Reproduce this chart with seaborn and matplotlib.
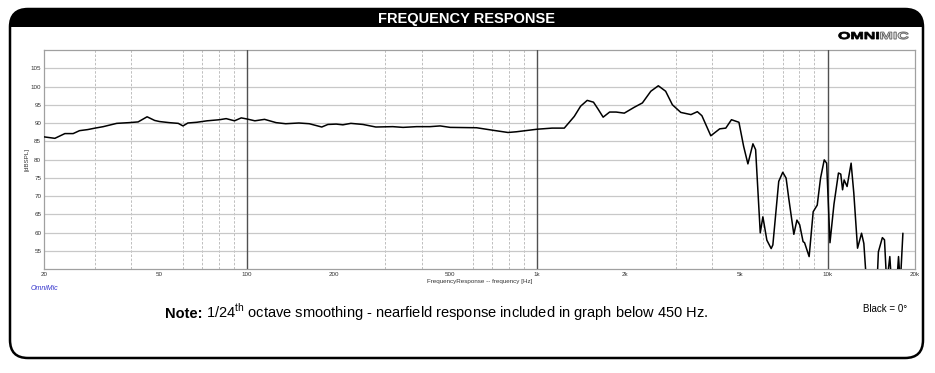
import matplotlib
matplotlib.use('Agg')
import matplotlib.pyplot as plt
import seaborn as sns
import pandas as pd
from matplotlib.patches import FancyBboxPatch, Rectangle, PathPatch
from matplotlib.textpath import TextPath
from matplotlib.font_manager import FontProperties
from matplotlib.transforms import Affine2D
from matplotlib.ticker import LogLocator, NullFormatter, FixedLocator

# frequency response (Hz, dB SPL)
freq_hz = [20, 21.8, 23.6, 25.2, 26.5, 28.3, 30, 32, 35.6, 39.3, 42.2, 45.3, 48.1, 50,
           54, 58, 60.2, 62.6, 67.2, 72.9, 80.5, 84.8, 90.6, 95.6, 100, 106.5, 115, 126,
           136, 151, 164, 181, 190, 203, 214, 228, 251, 278, 318, 345, 384, 427, 463,
           501, 618, 705, 793, 848, 1000, 1125, 1239, 1341, 1410, 1486, 1562, 1620, 1686,
           1775, 1869, 1994, 2157, 2302, 2461, 2612, 2768, 2920, 3121, 3383, 3560, 3690,
           3960, 4250, 4460, 4665, 4950, 5138, 5315, 5531, 5650, 5862, 5985, 6177, 6392,
           6478, 6787, 7007, 7196, 7347, 7651, 7840, 8015, 8232, 8330, 8638, 8920, 9210,
           9456, 9737, 9924, 10190, 10520, 10900, 11100, 11260, 11400, 11670, 12050,
           12310, 12680, 13090, 13330, 13620, 14800, 14960, 15440, 15700, 15980, 16380,
           16600, 17300, 17550, 17800, 18170]
spl_db = [86.2, 85.8, 87.1, 87.1, 87.9, 88.2, 88.6, 89.0, 89.9, 90.1, 90.3, 91.7, 90.7, 90.4,
          90.1, 89.9, 89.2, 90.0, 90.2, 90.6, 90.9, 91.2, 90.6, 91.4, 91.1, 90.6, 91.0, 90.1,
          89.8, 90.0, 89.8, 88.9, 89.6, 89.7, 89.5, 89.9, 89.6, 88.9, 89.0, 88.8, 89.0, 89.0, 89.2,
          88.8, 88.7, 88.0, 87.4, 87.6, 88.3, 88.6, 88.6, 91.8, 94.6, 96.2, 95.7, 93.8, 91.6,
          93.0, 93.0, 92.7, 94.3, 95.5, 98.7, 100.2, 98.7, 95.0, 92.9, 92.3, 93.1, 92.0,
          86.5, 88.4, 88.6, 90.9, 90.2, 83.6, 78.8, 84.3, 82.7, 59.9, 64.3, 57.9, 55.6,
          56.6, 74.0, 76.5, 74.9, 69.4, 59.5, 63.4, 62.1, 57.5, 57.2, 53.4, 65.7, 67.5,
          74.9, 79.9, 79.0, 57.2, 67.8, 76.3, 76.0, 71.7, 74.4, 72.6, 79.0,
          70.8, 55.7, 59.8, 57.0, 46, 46, 54.7, 58.6, 58.0, 46, 53.4,
          46, 46, 53.4, 46, 59.8]

x_ticks = [20, 50, 100, 200, 500, 1000, 2000, 5000, 10000, 20000]
x_tick_labels = ['20', '50', '100', '200', '500', '1k', '2k', '5k', '10k', '20k']
y_ticks = [55, 60, 65, 70, 75, 80, 85, 90, 95, 100, 105]
decades = [100, 1000, 10000]

sns.set_style('white')
plt.rcParams['font.family'] = ['Liberation Sans', 'DejaVu Sans']
plt.rcParams['mathtext.fontset'] = 'custom'
plt.rcParams['mathtext.rm'] = 'Liberation Sans'
plt.rcParams['mathtext.bf'] = 'Liberation Sans:bold'

df = pd.DataFrame({'freq': freq_hz, 'spl': spl_db})

fig = plt.figure(figsize=(9.35, 3.73), dpi=100)

# background panel in pixel coordinates
bg = fig.add_axes([0, 0, 1, 1])
bg.set_xlim(0, 935)
bg.set_ylim(373, 0)
bg.axis('off')

panel = FancyBboxPatch((10, 9), 913, 349, boxstyle='round,pad=0,rounding_size=18',
                       fc='white', ec='black', lw=1.8, zorder=1)
bg.add_patch(panel)
bar = Rectangle((0, 0), 935, 27, fc='black', ec='none', zorder=2)
bg.add_patch(bar)
bar.set_clip_path(panel)
bg.text(467, 18.5, 'FREQUENCY RESPONSE', color='white', fontsize=10.5,
        fontweight='bold', ha='center', va='center', zorder=3)

# OMNIMIC logo, stretched horizontally
fp = FontProperties(family='Liberation Sans', weight='bold')
omni = TextPath((0, 0), 'OMNI', size=10, prop=fp)
mic = TextPath((0, 0), 'MIC', size=10, prop=fp)
sx = 1.6
tr = Affine2D().scale(sx, -1.0)
bg.add_patch(PathPatch(tr.transform_path(omni), fc='black', ec='black', lw=0.6,
                       transform=Affine2D().translate(838, 39) + bg.transData, zorder=3))
w_omni = omni.get_extents().width * sx
bg.add_patch(PathPatch(tr.transform_path(mic), fc='#f0f0f0', ec='#666666', lw=0.7,
                       transform=Affine2D().translate(838 + w_omni + 1.5, 39) + bg.transData,
                       zorder=3))

# main plot
ax = fig.add_axes([44 / 935, 1 - 269 / 373, 871 / 935, 219 / 373])
ax.set_zorder(5)
ax.patch.set_facecolor('white')
sns.lineplot(data=df, x='freq', y='spl', ax=ax, color='black', lw=1.1, zorder=4)
ax.set_xscale('log')
ax.set_xlim(20, 20000)
ax.set_ylim(50, 110)

ax.xaxis.set_major_locator(FixedLocator(x_ticks))
ax.set_xticklabels(x_tick_labels)
ax.xaxis.set_minor_locator(LogLocator(base=10, subs=range(2, 10), numticks=20))
ax.xaxis.set_minor_formatter(NullFormatter())
ax.set_yticks(y_ticks)
ax.set_yticklabels([str(v) for v in y_ticks])

ax.grid(False)
ax.grid(axis='y', which='major', color='#c8c8c8', lw=0.9, ls='-')
ax.grid(axis='x', which='minor', color='#b4b4b4', lw=0.6, ls=(0, (3, 2)))
for d in decades:
    ax.axvline(d, color='#505050', lw=1.0, zorder=3)

ax.tick_params(axis='both', which='both', length=0, labelsize=4.5, labelcolor='#333333')
ax.tick_params(axis='x', pad=2)
ax.tick_params(axis='y', pad=2)
for s in ax.spines.values():
    s.set_color('#a0a0a0')
    s.set_linewidth(0.9)

ax.set_xlabel('FrequencyResponse -- frequency [Hz]', fontsize=4.5, color='#333333')
ax.set_ylabel('[dBSPL]', fontsize=4.5, color='#333333')
ax.xaxis.set_label_coords(0.5, -0.045)
ax.yaxis.set_label_coords(-0.017, 0.5)

# footer texts
bg.text(31, 289, 'OmniMic', color='#3333cc', fontsize=5, style='italic',
        ha='left', va='center', zorder=3)
note_head = bg.text(165, 318, 'Note:', fontsize=10.5, fontweight='bold', color='black',
                    ha='left', va='baseline', zorder=3)
fig.canvas.draw()
bb = note_head.get_window_extent(fig.canvas.get_renderer())
x_end = bg.transData.inverted().transform((bb.x1, bb.y0))[0]
bg.text(x_end + 4, 318, r'1/24$^{\mathrm{th}}$ octave smoothing - nearfield '
        'response included in graph below 450 Hz.', fontsize=10.5, color='black',
        ha='left', va='baseline', zorder=3)
bg.text(863, 309, 'Black = 0°', fontsize=7, color='black', ha='left', va='center', zorder=3)

fig.savefig('out.png', dpi=100)
